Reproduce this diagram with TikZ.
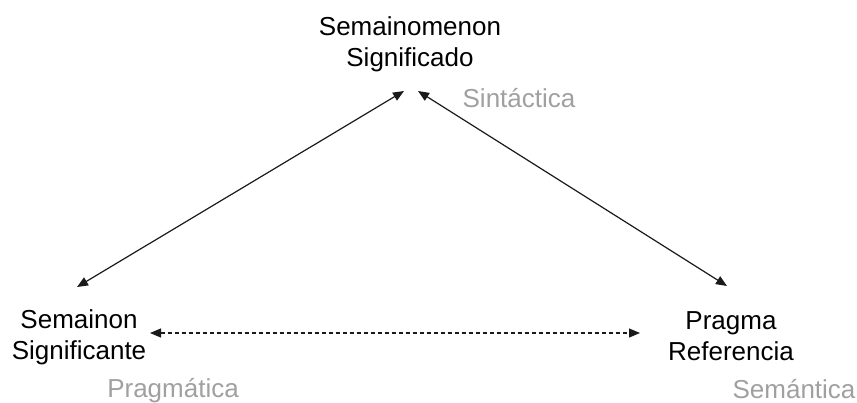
\documentclass[tikz,border=0pt]{standalone}
\usepackage{fontspec}
\setmainfont{Liberation Sans}
\usetikzlibrary{arrows.meta}
\definecolor{labelgray}{HTML}{A0A0A0}
\definecolor{linecol}{HTML}{1A1A1A}
\tikzset{
  term/.style={align=center, inner sep=0pt, font=\fontsize{26}{31}\selectfont, text=black},
  role/.style={anchor=base, inner sep=0pt, font=\fontsize{26}{31}\selectfont, text=labelgray},
  link/.style={draw=linecol, line width=1.2pt, {Triangle[length=11pt,width=9pt]}-{Triangle[length=11pt,width=9pt]}},
  dashlink/.style={link, dash pattern=on 4pt off 3pt}
}
\begin{document}
\begin{tikzpicture}[x=1pt,y=-1pt]
\useasboundingbox (0,0) rectangle (857,402);
% terms
\node[term] (top) at (410,44) {Semainomenon\\Significado};
\node[term] (left) at (79,337) {Semainon\\Significante};
\node[term] (right) at (731,336) {Pragma\\Referencia};
% role labels
\node[role] (sint) at (519,107) {Sintáctica};
\node[role] (prag) at (173,397) {Pragmática};
\node[role] (sem) at (794,398) {Semántica};
% connector ends
\coordinate (topL) at (404,91);
\coordinate (topR) at (418,91);
\coordinate (leftT) at (77,287);
\coordinate (rightT) at (727,286);
\coordinate (leftE) at (150,333);
\coordinate (rightE) at (640,333);
% connectors
\draw[link] (leftT) -- (topL);
\draw[link] (topR) -- (rightT);
\draw[dashlink] (leftE) -- (rightE);
\end{tikzpicture}
\end{document}
